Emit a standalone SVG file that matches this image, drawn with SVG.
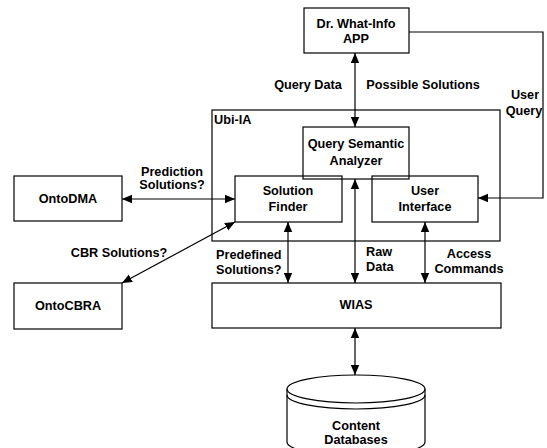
<svg xmlns="http://www.w3.org/2000/svg" width="547" height="448" viewBox="0 0 547 448">
<style>
  .box { fill: none; stroke: #000; stroke-width: 1.2; }
  .t { font-family: "Liberation Sans", Arial, sans-serif; font-weight: bold; font-size: 12.7px; fill: #000; text-anchor: middle; }
  .l { text-anchor: start; }
  .c { fill: none; stroke: #000; stroke-width: 1.2; }
</style>
<defs>
  <marker id="ah" markerUnits="userSpaceOnUse" markerWidth="12" markerHeight="10" viewBox="0 0 12 10" refX="10" refY="5" orient="auto-start-reverse">
    <path d="M0,0.8 L10,5 L0,9.2 z" fill="#000"/>
  </marker>
</defs>
<rect width="547" height="448" fill="#fff"/>

<g id="ubi-ia">
  <rect class="box" x="212" y="110" width="288" height="131"/>
  <text class="t l" x="214" y="124">Ubi-IA</text>
</g>
<g id="app">
  <rect class="box" x="304" y="8" width="105" height="45"/>
  <text class="t" x="356" y="28">Dr. What-Info</text>
  <text class="t" x="356" y="43">APP</text>
</g>
<g id="qsa">
  <rect class="box" x="303" y="127" width="106" height="52"/>
  <text class="t" x="356" y="148">Query Semantic</text>
  <text class="t" x="356" y="165">Analyzer</text>
</g>
<g id="solution-finder">
  <rect class="box" x="235" y="176" width="107" height="46"/>
  <text class="t" x="288" y="195">Solution</text>
  <text class="t" x="288" y="211">Finder</text>
</g>
<g id="user-interface">
  <rect class="box" x="372" y="176" width="106" height="46"/>
  <text class="t" x="425" y="195">User</text>
  <text class="t" x="425" y="211">Interface</text>
</g>
<g id="ontodma">
  <rect class="box" x="14" y="176" width="108" height="45"/>
  <text class="t" x="68" y="203">OntoDMA</text>
</g>
<g id="ontocbra">
  <rect class="box" x="14" y="283" width="108" height="46"/>
  <text class="t" x="68" y="310">OntoCBRA</text>
</g>
<g id="wias">
  <rect class="box" x="212" y="283" width="289" height="45"/>
  <text class="t" x="356" y="309">WIAS</text>
</g>
<g id="content-databases">
  <path class="box" d="M287,389 L287,442 A69,14 0 0 0 425,442 L425,389"/>
  <ellipse class="box" cx="356" cy="389" rx="69" ry="14"/>
  <path class="box" d="M287,395 A69,14 0 0 0 425,395"/>
  <text class="t" x="356" y="430">Content</text>
  <text class="t" x="356" y="444">Databases</text>
</g>

<g id="connectors">
  <line class="c" x1="355" y1="53" x2="355" y2="127" marker-start="url(#ah)" marker-end="url(#ah)"/>
  <polyline class="c" points="409,32 543,32 543,198 478,198" marker-end="url(#ah)"/>
  <line class="c" x1="122" y1="199" x2="235" y2="199" marker-start="url(#ah)" marker-end="url(#ah)"/>
  <line class="c" x1="235" y1="222" x2="122" y2="283" marker-start="url(#ah)" marker-end="url(#ah)"/>
  <line class="c" x1="288" y1="222" x2="288" y2="283" marker-start="url(#ah)" marker-end="url(#ah)"/>
  <line class="c" x1="355" y1="179" x2="355" y2="283" marker-start="url(#ah)" marker-end="url(#ah)"/>
  <line class="c" x1="425" y1="222" x2="425" y2="283" marker-start="url(#ah)" marker-end="url(#ah)"/>
  <line class="c" x1="355" y1="328" x2="355" y2="375" marker-start="url(#ah)" marker-end="url(#ah)"/>

  <text class="t" x="308" y="89">Query Data</text>
  <text class="t" x="423" y="89">Possible Solutions</text>
  <text class="t" x="525" y="99">User</text>
  <text class="t" x="524" y="115">Query</text>
  <text class="t" x="172" y="176">Prediction</text>
  <text class="t" x="172" y="189">Solutions?</text>
  <text class="t" x="119" y="257">CBR Solutions?</text>
  <text class="t l" x="216" y="259">Predefined</text>
  <text class="t l" x="216" y="274">Solutions?</text>
  <text class="t l" x="366" y="256">Raw</text>
  <text class="t l" x="366" y="271">Data</text>
  <text class="t" x="469" y="258">Access</text>
  <text class="t" x="469" y="273">Commands</text>
</g>
</svg>
